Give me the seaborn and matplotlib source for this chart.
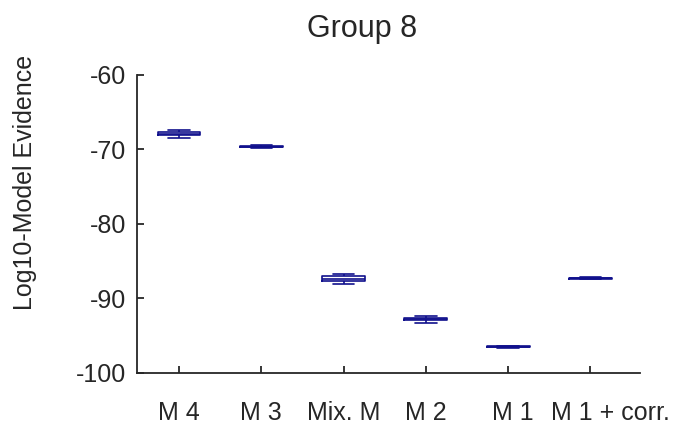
import numpy as np
import pandas as pd
import matplotlib
matplotlib.use('Agg')
import matplotlib.pyplot as plt
import matplotlib.transforms as mtransforms
import seaborn as sns

# Box summaries: lower whisker, q1, median, q3, upper whisker
models = ['M 4', 'M 3', 'Mix. M', 'M 2', 'M 1', 'M 1 + corr.']
m4 = [-68.5, -68.1, -67.9, -67.7, -67.4]
m3 = [-69.75, -69.66, -69.6, -69.54, -69.45]
mix_m = [-88.1, -87.65, -87.4, -86.95, -86.7]
m2 = [-93.25, -92.95, -92.8, -92.65, -92.4]
m1 = [-96.6, -96.52, -96.47, -96.42, -96.34]
m1_corr = [-87.42, -87.34, -87.29, -87.24, -87.16]
y_ticks = [-100, -90, -80, -70, -60]

rows = []
for name, vals in zip(models, [m4, m3, mix_m, m2, m1, m1_corr]):
    for v in vals:
        rows.append({'model': name, 'evidence': v})
df = pd.DataFrame(rows)

sns.set_style('ticks')
plt.rcParams['font.family'] = ['Liberation Sans', 'DejaVu Sans']
plt.rcParams['xtick.direction'] = 'in'
plt.rcParams['ytick.direction'] = 'in'

navy = '#10108c'
grey = '#262626'

fig = plt.figure(figsize=(6.8, 4.3), dpi=100)
ax = fig.add_axes([0.2015, 0.1326, 0.7395, 0.693])

sns.boxplot(data=df, x='model', y='evidence', order=models, fill=False,
            color=navy, width=0.52, linewidth=1.2, fliersize=0, whis=1.5, ax=ax)

ax.set_xlim(-0.51, 5.6)
ax.set_ylim(-100, -60)
ax.set_yticks(y_ticks)
ax.set_yticklabels([str(t) for t in y_ticks])
ax.set_xlabel('')
ax.set_ylabel('Log10-Model Evidence', fontsize=18, color=grey)
ax.yaxis.set_label_coords(-0.198, 0.638)
ax.set_title('Group 8', fontsize=22, color=grey, pad=27, x=0.447)

sns.despine(ax=ax)
for side in ['left', 'bottom']:
    ax.spines[side].set_color(grey)
    ax.spines[side].set_linewidth(1.3)
ax.tick_params(axis='both', labelsize=18, colors=grey, length=5, width=1.3)
ax.tick_params(axis='x', pad=20)
ax.tick_params(axis='y', pad=8)

# last two labels sit a bit to the right of their ticks in the original
for i, dx in [(-2, 0.05), (-1, 0.2)]:
    lab = ax.get_xticklabels()[i]
    lab.set_transform(lab.get_transform() + mtransforms.ScaledTranslation(dx, 0, fig.dpi_scale_trans))

plt.savefig('out.png', dpi=100)
